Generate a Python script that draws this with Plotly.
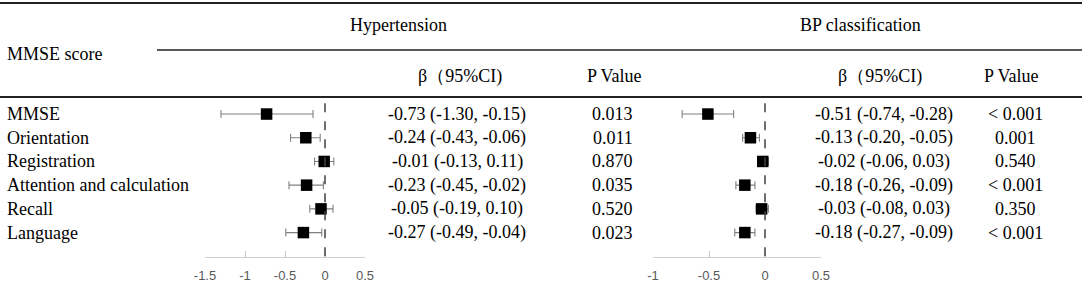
import plotly.graph_objects as go

# ---------------- data ----------------
outcomes = ["MMSE", "Orientation", "Registration", "Attention and calculation", "Recall", "Language"]

htn_beta = [-0.73, -0.24, -0.01, -0.23, -0.05, -0.27]
htn_lo = [-1.30, -0.43, -0.13, -0.45, -0.19, -0.49]
htn_hi = [-0.15, -0.06, 0.11, -0.02, 0.10, -0.04]
htn_p = ["0.013", "0.011", "0.870", "0.035", "0.520", "0.023"]

bp_beta = [-0.51, -0.13, -0.02, -0.18, -0.03, -0.18]
bp_lo = [-0.74, -0.20, -0.06, -0.26, -0.08, -0.27]
bp_hi = [-0.28, -0.05, 0.03, -0.09, 0.03, -0.09]
bp_p = ["< 0.001", "0.001", "0.540", "< 0.001", "0.350", "< 0.001"]

htn_ticks = [-1.5, -1, -0.5, 0, 0.5]
bp_ticks = [-1, -0.5, 0, 0.5]

W, H = 1084, 286
SERIF = "Liberation Serif, Times New Roman, serif"
FS = 18

def px(x):
    return x / W

def py(y):
    return 1 - y / H

rows = list(range(len(outcomes)))

fig = go.Figure()

def forest(beta, lo, hi, xa):
    fig.add_trace(go.Scatter(
        x=beta, y=rows, xaxis=xa, yaxis="y", mode="markers",
        marker=dict(symbol="square", size=11.5, color="black"),
        error_x=dict(type="data", symmetric=False,
                     array=[h - b for h, b in zip(hi, beta)],
                     arrayminus=[b - l for b, l in zip(beta, lo)],
                     color="#808080", thickness=1.1, width=4),
        showlegend=False, hoverinfo="skip"))

forest(htn_beta, htn_lo, htn_hi, "x")
forest(bp_beta, bp_lo, bp_hi, "x2")

annotations = []

def fmt_ci(b, l, h):
    return f"{b:.2f} ({l:.2f}, {h:.2f})"

for i, name in enumerate(outcomes):
    annotations.append(dict(x=px(5), y=i, xref="paper", yref="y", text=name,
                            xanchor="left", yanchor="middle", showarrow=False,
                            font=dict(family=SERIF, size=FS, color="black")))
    annotations.append(dict(x=px(457), y=i, xref="paper", yref="y",
                            text=fmt_ci(htn_beta[i], htn_lo[i], htn_hi[i]),
                            xanchor="center", yanchor="middle", showarrow=False,
                            font=dict(family=SERIF, size=FS, color="black")))
    annotations.append(dict(x=px(613), y=i, xref="paper", yref="y", text=htn_p[i],
                            xanchor="center", yanchor="middle", showarrow=False,
                            font=dict(family=SERIF, size=FS, color="black")))
    annotations.append(dict(x=px(884), y=i, xref="paper", yref="y",
                            text=fmt_ci(bp_beta[i], bp_lo[i], bp_hi[i]),
                            xanchor="center", yanchor="middle", showarrow=False,
                            font=dict(family=SERIF, size=FS, color="black")))
    annotations.append(dict(x=px(1015), y=i, xref="paper", yref="y", text=bp_p[i],
                            xanchor="center", yanchor="middle", showarrow=False,
                            font=dict(family=SERIF, size=FS, color="black")))

headers = [
    ("MMSE score", 5, 54, "left"),
    ("Hypertension", 398, 25, "center"),
    ("BP classification", 860, 25, "center"),
    ("β（95%CI)", 460, 76, "center"),
    ("P Value", 614, 76, "center"),
    ("β（95%CI)", 880, 76, "center"),
    ("P Value", 1011, 76, "center"),
]
for t, x, y, anc in headers:
    annotations.append(dict(x=px(x), y=py(y), xref="paper", yref="paper", text=t,
                            xanchor=anc, yanchor="middle", showarrow=False,
                            font=dict(family=SERIF, size=FS, color="black")))

shapes = [
    dict(type="line", xref="paper", yref="paper", x0=0, x1=px(1082), y0=py(3), y1=py(3),
         line=dict(color="#222", width=2)),
    dict(type="line", xref="paper", yref="paper", x0=px(157), x1=px(1082), y0=py(50), y1=py(50),
         line=dict(color="#222", width=1.6)),
    dict(type="line", xref="paper", yref="paper", x0=0, x1=px(1082), y0=py(97), y1=py(97),
         line=dict(color="#222", width=2)),
    dict(type="line", xref="x", yref="y", x0=0, x1=0, y0=-0.45, y1=6.03,
         line=dict(color="#404040", width=1.5, dash="dash")),
    dict(type="line", xref="x2", yref="y", x0=0, x1=0, y0=-0.45, y1=6.03,
         line=dict(color="#404040", width=1.5, dash="dash")),
]

axis_common = dict(showgrid=False, zeroline=False, showline=True, linecolor="#d0d0d0",
                   linewidth=1, ticks="inside", ticklen=6, tickcolor="#c8c8c8",
                   tickwidth=1, tickfont=dict(family="Liberation Sans, Arial", size=13, color="#595959"),
                   ticklabelstandoff=6, fixedrange=True)

fig.update_layout(
    width=W, height=H,
    margin=dict(l=0, r=0, t=0, b=0, pad=0, autoexpand=False),
    paper_bgcolor="white", plot_bgcolor="rgba(0,0,0,0)",
    xaxis=dict(domain=[px(205), px(365)], range=[-1.5, 0.5], tickvals=htn_ticks,
               ticktext=[f"{v:g}" for v in htn_ticks], anchor="y", **axis_common),
    xaxis2=dict(domain=[px(653), px(821)], range=[-1, 0.5], tickvals=bp_ticks,
                ticktext=[f"{v:g}" for v in bp_ticks], anchor="y", **axis_common),
    yaxis=dict(domain=[py(257), 1], range=[6.03, -4.81], visible=False, fixedrange=True),
    annotations=annotations,
    shapes=shapes,
)

fig.write_html(
    "out.html",
    config={"responsive": False, "displayModeBar": False},
    post_script="document.body.style.margin='0';document.body.style.overflow='hidden';"
                "document.documentElement.style.overflow='hidden';",
)
